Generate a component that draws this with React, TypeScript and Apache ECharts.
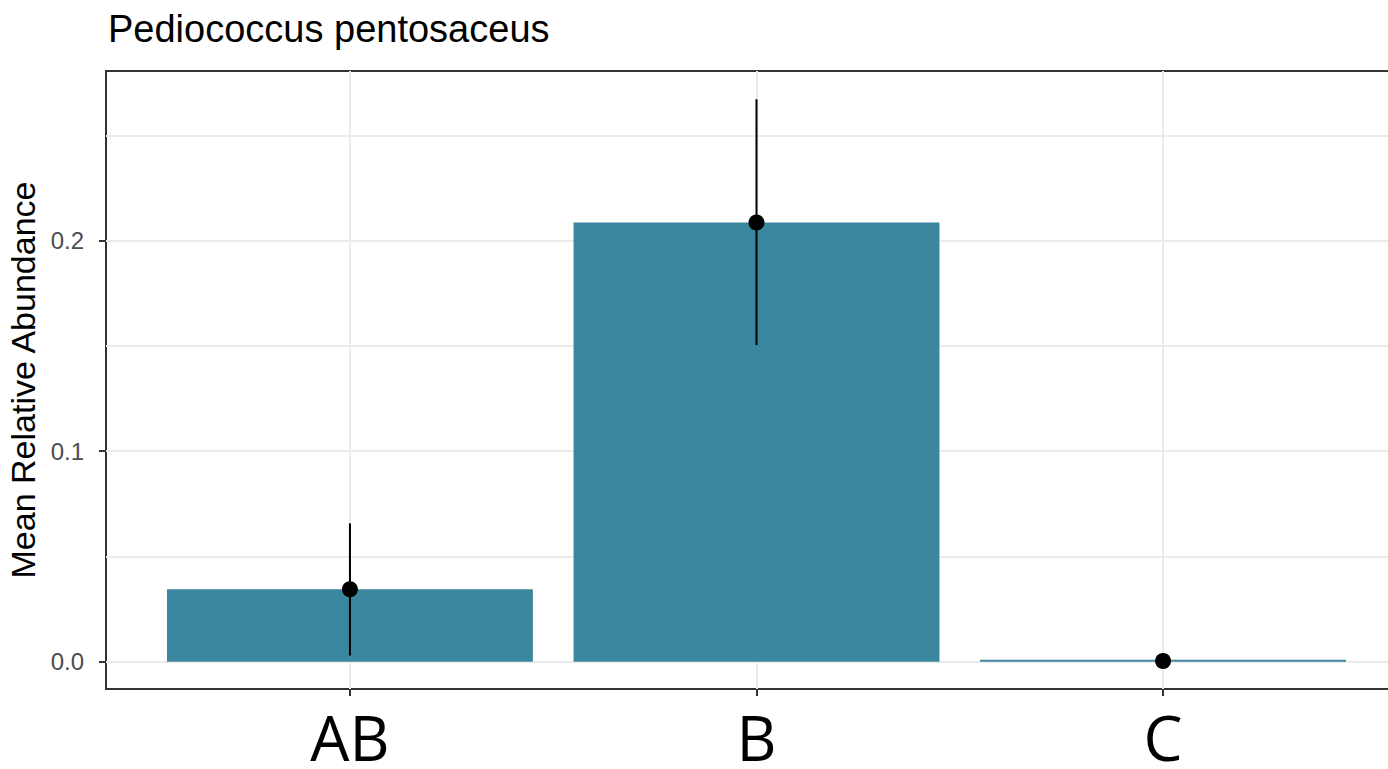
import React, { useEffect, useRef } from "react";
import * as echarts from "echarts";

const categories = ["AB", "B", "C"];
const categoryPositions = [0, 1, 2];
const meanValues = [0.0344, 0.2086, 0.0003];
const lowerValues = [0.0029, 0.1504, 0.0003];
const upperValues = [0.0657, 0.2672, 0.0003];
const yTickValues = [0, 0.1, 0.2];
const yMinorValues = [0.05, 0.15, 0.25];
const titleText = "Pediococcus pentosaceus";
const yAxisTitle = "Mean Relative Abundance";

export default function App() {
  const ref = useRef<HTMLDivElement>(null);
  useEffect(() => {
    if (!ref.current) return;
    const chart = echarts.init(ref.current, null, { renderer: "svg" });
    const barData = categoryPositions.map((p, i) => [p, meanValues[i]]);
    const errData = categoryPositions.map((p, i) => [p, lowerValues[i], upperValues[i]]);
    const pointData = categoryPositions.map((p, i) => [p, meanValues[i]]);
    chart.setOption({
      animation: false,
      backgroundColor: "#ffffff",
      title: {
        text: titleText,
        left: 103,
        top: 5,
        textStyle: { fontFamily: "Liberation Sans, Arial", fontSize: 38, fontWeight: "normal", color: "#000" },
      },
      grid: {
        left: 106,
        right: 23,
        top: 71,
        bottom: 80,
        show: true,
        borderColor: "#333333",
        borderWidth: 2,
        backgroundColor: "transparent",
        containLabel: false,
        outerBoundsMode: "none",
      },
      xAxis: {
        type: "value",
        min: -0.6,
        max: 2.6,
        axisLine: { show: false, onZero: false },
        axisTick: { show: true, customValues: categoryPositions, length: 7, lineStyle: { color: "#333", width: 2 } },
        axisLabel: {
          customValues: categoryPositions,
          formatter: (v: number) => categories[Math.round(v)] ?? "",
          fontFamily: "Open Sans",
          fontSize: 62,
          lineHeight: 54,
          color: "#000",
          margin: 21,
        },
        splitLine: { show: true, lineStyle: { color: "#ebebeb", width: 2 } },
      },
      yAxis: {
        type: "value",
        min: -0.013,
        max: 0.2806,
        name: yAxisTitle,
        nameLocation: "middle",
        nameGap: 61,
        nameTextStyle: { fontFamily: "Liberation Sans, Arial", fontSize: 34, color: "#000" },
        axisLine: { show: false, onZero: false },
        axisTick: { show: true, customValues: yTickValues, length: 7, lineStyle: { color: "#333", width: 2 } },
        axisLabel: {
          customValues: yTickValues,
          formatter: (v: number) => v.toFixed(1),
          fontFamily: "Liberation Sans, Arial",
          fontSize: 24,
          color: "#4d4d4d",
          margin: 22,
        },
        splitLine: { show: true, lineStyle: { color: "#ebebeb", width: 2 } },
      },
      series: [
        {
          type: "line",
          data: [],
          z: 1,
          silent: true,
          markLine: {
            silent: true,
            z: 1,
            symbol: ["none", "none"],
            label: { show: false },
            lineStyle: { color: "#ebebeb", width: 2, type: "solid" },
            data: yMinorValues.map((v) => ({ yAxis: v })),
          },
        },
        {
          type: "bar",
          data: barData,
          barWidth: "90%",
          barMinHeight: 2,
          itemStyle: { color: "#3C87A0" },
          z: 10,
        },
        {
          type: "custom",
          data: errData,
          encode: { x: 0, y: [1, 2] },
          z: 11,
          renderItem: (params: any, api: any) => {
            const x = api.value(0);
            const lo = api.coord([x, api.value(1)]);
            const hi = api.coord([x, api.value(2)]);
            return {
              type: "line",
              shape: { x1: lo[0], y1: lo[1], x2: hi[0], y2: hi[1] },
              style: { stroke: "#000", lineWidth: 2 },
            };
          },
        },
        {
          type: "scatter",
          data: pointData,
          symbol: "circle",
          symbolSize: 16,
          itemStyle: { color: "#000", opacity: 1 },
          z: 12,
        },
      ],
    });
    return () => chart.dispose();
  }, []);
  return (
    <div style={{ position: "fixed", left: 0, top: 0, width: 1388, height: 769, overflow: "hidden", background: "#fff" }}>
      <div ref={ref} style={{ width: 1430, height: 769 }} />
    </div>
  );
}
